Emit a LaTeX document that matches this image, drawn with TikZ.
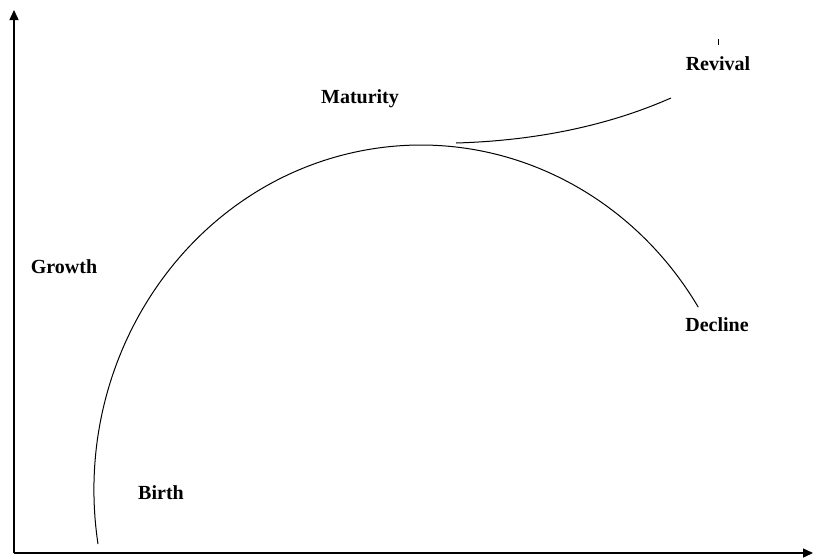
\documentclass[tikz,border=0pt]{standalone}
\usepackage{fontspec}
\setmainfont{Liberation Serif}
\usetikzlibrary{arrows.meta}
\tikzset{
  lbl/.style={font=\fontsize{20}{22}\selectfont\bfseries, inner sep=0pt},
  axis/.style={line width=1.4pt, -{Triangle[length=10pt,width=9pt]}},
  curve/.style={line width=1pt}
}
\begin{document}
\begin{tikzpicture}[x=1pt,y=-1pt]
\useasboundingbox (0,0) rectangle (813,557);
\coordinate (o) at (14,553);
\coordinate (ytop) at (14,10);
\coordinate (xend) at (813,553);
\draw[axis] (o) -- (ytop);
\draw[axis] (o) -- (xend);
% main curve (elliptic arc), y axis flipped so angles mirror
\coordinate (bstart) at (98,544);
\draw[curve] (bstart) arc[start angle=-189, end angle=-32, x radius=327, y radius=345] coordinate (dend);
% revival branch
\coordinate (rs) at (456,143);
\coordinate (re) at (671,98);
\draw[curve] (rs) .. controls (560,140) and (630,116) .. (re);
% tick
\coordinate (t1) at (718,39);
\coordinate (t2) at (718,45);
\draw[line width=0.8pt] (t1) -- (t2);
\node[lbl] (mat) at (360,99) {Maturity};
\node[lbl] (rev) at (718,64) {Revival};
\node[lbl] (dec) at (717,325) {Decline};
\node[lbl] (gro) at (64,267) {Growth};
\node[lbl] (bir) at (161,493) {Birth};
\end{tikzpicture}
\end{document}
